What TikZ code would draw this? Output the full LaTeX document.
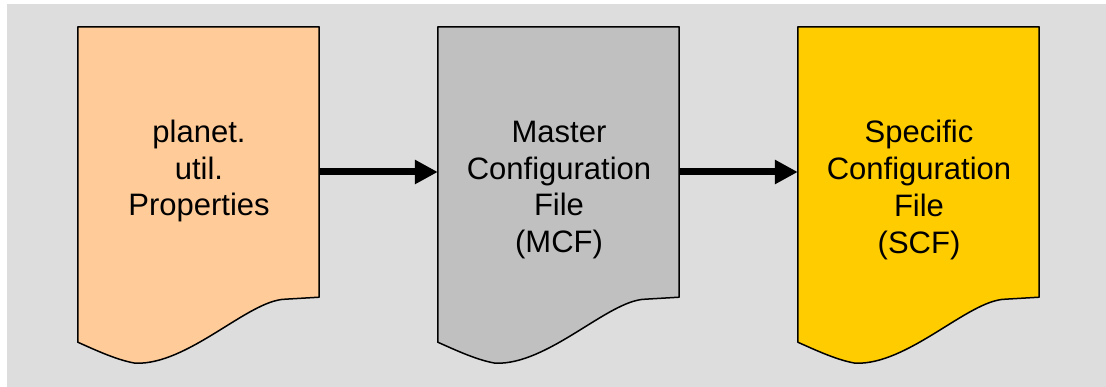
\documentclass[tikz,border=0pt]{standalone}
\usepackage{fontspec}
\setmainfont{Liberation Sans}
\usetikzlibrary{arrows.meta}

\definecolor{panel}{HTML}{DDDDDD}
\definecolor{peach}{HTML}{FFCC99}
\definecolor{silver}{HTML}{C0C0C0}
\definecolor{gold}{HTML}{FFCC00}

\tikzset{
  docbox/.style={rectangle, inner sep=0pt, minimum width=241pt, minimum height=270pt},
  docline/.style={draw=black, line width=1.5pt, line join=round},
  doclabel/.style={align=center, inner sep=0pt, font=\fontsize{31}{36.8}\selectfont},
  flow/.style={line width=7pt, -{Triangle[length=23pt,width=23pt]}},
}

% document outline with a wavy lower edge, hung on a named box node
\newcommand{\docoutline}[2]{%
  \draw[docline, fill=#2]
    (#1.north west) -- (#1.north east) -- (#1.south east)
    -- ([shift={(-34,2)}]#1.south east)
    .. controls ([shift={(-71,3)}]#1.south east) and ([shift={(-131,68)}]#1.south east)
    .. ([shift={(-184,66)}]#1.south east)
    .. controls ([shift={(40,63)}]#1.south west) and ([shift={(20,54)}]#1.south west)
    .. ([shift={(0,45)}]#1.south west) -- cycle;}

\begin{document}
\begin{tikzpicture}[x=1pt, y=-1pt]
  \useasboundingbox (0,0) rectangle (1106,387);
  \fill[panel] (7,4) rectangle (1106,387);

  \node[docbox] (props) at (198.5,162) {};
  \node[docbox] (mcf)   at (558.5,162) {};
  \node[docbox] (scf)   at (918.5,162) {};

  \docoutline{props}{peach}
  \docoutline{mcf}{silver}
  \docoutline{scf}{gold}

  \node[doclabel] (propsText) at (199,171) {planet.\\util.\\Properties};
  \node[doclabel] (mcfText)   at (559,190) {Master\\Configuration\\File\\(MCF)};
  \node[doclabel] (scfText)   at (919,190) {Specific\\Configuration\\File\\(SCF)};

  \draw[flow] (props.east |- 0,172) -- (mcf.west |- 0,172);
  \draw[flow] (mcf.east |- 0,172) -- (scf.west |- 0,172);
\end{tikzpicture}
\end{document}
